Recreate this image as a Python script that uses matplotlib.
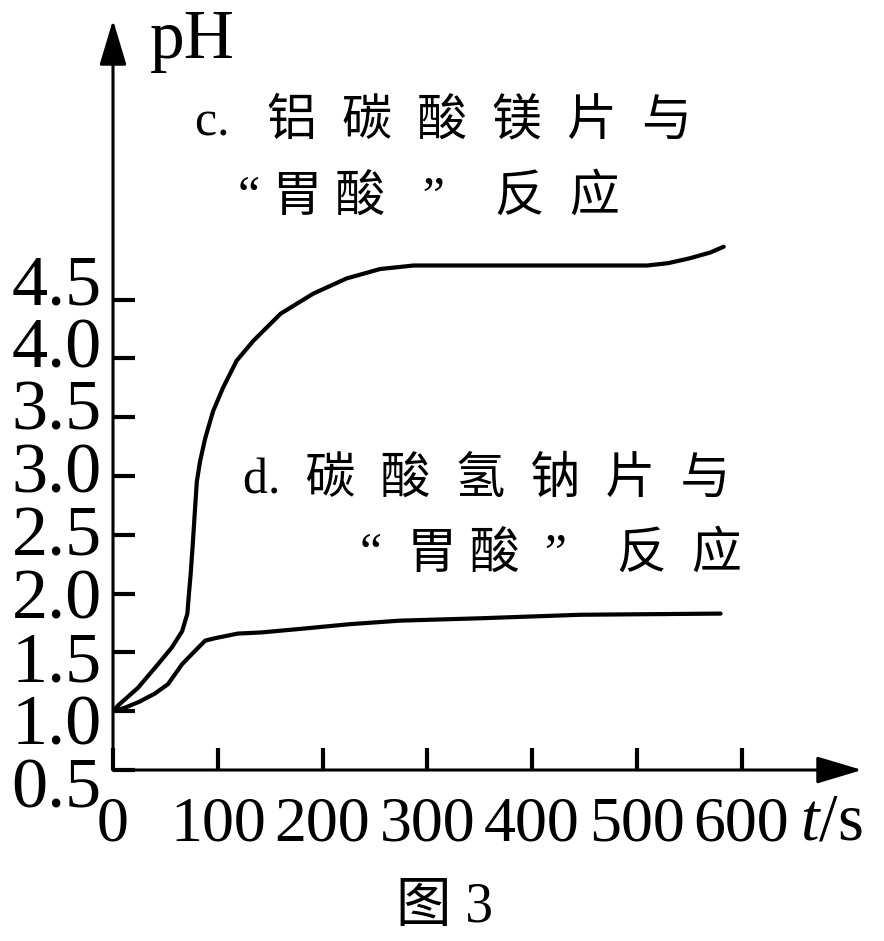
import matplotlib
matplotlib.use("Agg")
import matplotlib.pyplot as plt
import matplotlib.transforms as mtransforms

# curve c: aluminium magnesium carbonate tablet + "stomach acid"
t_c = [0, 5, 24, 43, 56, 66, 71, 72.5, 74, 76, 78, 80, 83, 88, 95.5, 105, 118, 134,
       160, 191, 223, 255, 287, 350, 420, 480, 510, 530, 550, 570, 583]
ph_c = [1.0, 1.05, 1.2, 1.4, 1.54, 1.68, 1.83, 2.0, 2.15, 2.4, 2.68, 2.95, 3.12, 3.32,
        3.55, 3.75, 3.98, 4.15, 4.38, 4.55, 4.68, 4.76, 4.79, 4.79, 4.79, 4.79, 4.79,
        4.81, 4.85, 4.9, 4.95]

# curve d: sodium bicarbonate tablet + "stomach acid"
t_d = [0, 11.5, 25, 40, 52.5, 66, 78, 88, 97, 119, 142, 179, 226, 274, 350, 446, 580]
ph_d = [1.0, 1.03, 1.08, 1.15, 1.23, 1.4, 1.51, 1.6, 1.62, 1.66, 1.67, 1.7, 1.74, 1.77,
        1.79, 1.82, 1.83]

x_ticks = [0, 100, 200, 300, 400, 500, 600]
y_ticks = [0.5, 1.0, 1.5, 2.0, 2.5, 3.0, 3.5, 4.0, 4.5]
y_labels = ["0.5", "1.0", "1.5", "2.0", "2.5", "3.0", "3.5", "4.0", "4.5"]

plt.rcParams['mathtext.fontset'] = 'custom'
plt.rcParams['mathtext.rm'] = 'Liberation Serif'
plt.rcParams['mathtext.it'] = 'Liberation Serif:italic'

serif_cjk = ['Liberation Serif', 'Noto Sans CJK SC']

W, H = 884, 941
fig = plt.figure(figsize=(W / 100, H / 100), dpi=100)
ax = fig.add_axes([113 / W, 171 / H, 749 / W, 750 / H])
ax.set_xlim(0, 715)
ax.set_ylim(0.5, 0.5 + 750 / 117.6)

ax.plot(t_c, ph_c, color='black', lw=3, solid_capstyle='round', solid_joinstyle='round')
ax.plot(t_d, ph_d, color='black', lw=3, solid_capstyle='round', solid_joinstyle='round')

for s in ax.spines.values():
    s.set_visible(False)

# axes with arrow heads
arrow = dict(arrowstyle='-|>,head_length=1.0,head_width=0.3', lw=2.2, color='black',
             shrinkA=0, shrinkB=0, mutation_scale=28)
ax.annotate('', xy=(1, 0), xytext=(0, 0), xycoords='axes fraction', arrowprops=arrow)
ax.annotate('', xy=(0, 1), xytext=(0, 0), xycoords='axes fraction', arrowprops=arrow)

ax.set_xticks(x_ticks)
ax.set_xticklabels([str(v) for v in x_ticks], family='Liberation Serif', fontsize=46)
ax.set_yticks(y_ticks)
ax.set_yticklabels(y_labels, family='Liberation Serif', fontsize=52)
ax.tick_params(axis='both', direction='in', length=16, width=3, color='black')
ax.tick_params(axis='x', pad=19)
ax.tick_params(axis='y', pad=8)

# the y labels in the original are spaced a little wider than the ticks
for i, lab in enumerate(ax.get_yticklabels()):
    off = mtransforms.ScaledTranslation(0, (i - 3) * 4.1 / 100, fig.dpi_scale_trans)
    lab.set_transform(lab.get_transform() + off)


def ftext(x, y, s, **kw):
    fig.text(x / W, 1 - y / H, s, **kw)


ftext(150, 58, 'pH', family='Liberation Serif', fontsize=50, va='baseline')
ftext(800, 823, r'$t$/s', family='Liberation Serif', fontsize=48, va='center')

ftext(195, 122, 'c.   铝  碳  酸  镁  片  与', family=serif_cjk, fontsize=36, va='center')
ftext(238, 198, '“ 胃 酸   ”    反  应', family=serif_cjk, fontsize=36, va='center')
ftext(243, 480, 'd.  碳  酸  氢  钠  片  与', family=serif_cjk, fontsize=36, va='center')
ftext(360, 555, '“  胃 酸  ”    反  应', family=serif_cjk, fontsize=36, va='center')

ftext(445, 908, '图 3', family=serif_cjk, fontsize=40, va='center', ha='center')

fig.savefig('out.png', dpi=100)
